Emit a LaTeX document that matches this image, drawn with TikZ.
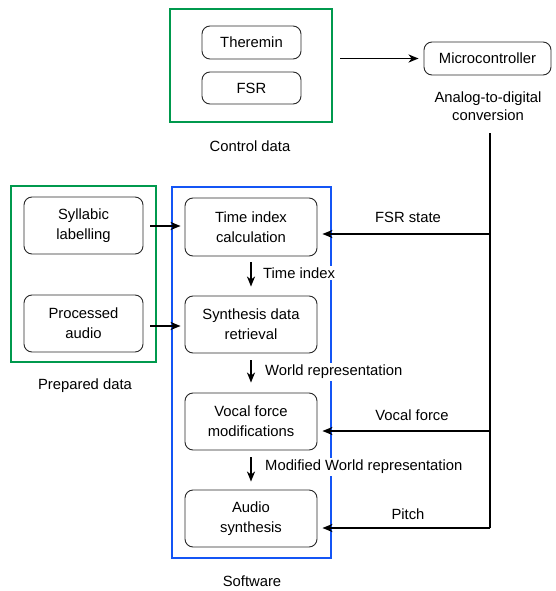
\documentclass[tikz,border=0pt]{standalone}
\usepackage{fontspec}
\setmainfont{Liberation Sans}
\usetikzlibrary{arrows.meta}
\definecolor{grn}{RGB}{0,153,77}
\definecolor{blu}{RGB}{20,85,245}
\definecolor{edge}{RGB}{40,40,40}
\tikzset{
  x=1pt, y=-1pt,
  every node/.style={font=\fontsize{14.8}{20}\selectfont, inner sep=0pt},
  blk/.style={draw=edge, line width=0.9pt, rounded corners=8pt, align=center, minimum width=#1},
  grp/.style={line width=2pt},
  lbl/.style={align=center},
  flow/.style={line width=1.8pt, -{Stealth[length=10pt,width=8pt,inset=3pt]}},
  wl/.style={fill=white, inner sep=2pt, anchor=west},
}
\begin{document}
\begin{tikzpicture}
\useasboundingbox (0,0) rectangle (555,591);
% group frames
\draw[grp, draw=grn] (170,9) rectangle (332,122);
\draw[grp, draw=grn] (11,186) rectangle (156,362);
\draw[grp, draw=blu] (172,187) rectangle (331,558);
\coordinate (ctrl) at (332,65);
\coordinate (prep) at (156,274);
% blocks
\node[blk=99pt, minimum height=33pt] (ther) at (251.5,42.5) {Theremin};
\node[blk=99pt, minimum height=32pt] (fsr) at (251.5,88) {FSR};
\node[blk=127pt, minimum height=33pt] (micro) at (487.5,58.5) {Microcontroller};
\node[blk=119pt, minimum height=57pt] (syl) at (83.5,225.5) {Syllabic\\labelling};
\node[blk=119pt, minimum height=57pt] (proc) at (83.5,323.5) {Processed\\audio};
\node[blk=132pt, minimum height=58pt] (tidx) at (251,227) {Time index\\calculation};
\node[blk=132pt, minimum height=57pt] (synth) at (251,324.5) {Synthesis data\\retrieval};
\node[blk=132pt, minimum height=57pt] (vocal) at (251,421.5) {Vocal force\\modifications};
\node[blk=132pt, minimum height=57pt] (audio) at (251,518.5) {Audio\\synthesis};
% group labels
\node[lbl] (lctrl) at (250,146) {Control data};
\node[lbl] (lprep) at (85,386) {Prepared data};
\node[lbl] (lsoft) at (252,581) {Software};
\node[lbl, font=\fontsize{14.8}{18.3}\selectfont] (ladc) at (488,106) {Analog-to-digital\\conversion};
% control to micro
\draw[flow, shorten <=8pt, shorten >=5pt] (ctrl |- micro) -- (micro.west);
% prepared data
\draw[flow, shorten <=7pt, shorten >=4pt] (syl.east |- 0,226) -- (tidx.west |- 0,226);
\draw[flow, shorten <=7pt, shorten >=4pt] (proc.east |- 0,326) -- (synth.west |- 0,326);
% internal flow
\draw[flow, shorten <=6pt, shorten >=9pt] (tidx.south) -- (synth.north);
\draw[flow, shorten <=7pt, shorten >=10pt] (synth.south) -- (vocal.north);
\draw[flow, shorten <=7pt, shorten >=8pt] (vocal.south) -- (audio.north);
\node[wl] (t1) at (261,273) {Time index};
\node[wl] (t2) at (263,372) {World representation};
\node[wl] (t3) at (263,467) {Modified World representation};
% bus from microcontroller
\coordinate (bustop) at (490,133);
\coordinate (b1) at (490,234);
\coordinate (b2) at (490,431);
\coordinate (b3) at (490,528);
\draw[line width=1.8pt] (bustop) -- (b3);
\draw[flow, shorten >=5pt] (b1) -- (tidx.east |- b1);
\draw[flow, shorten >=5pt] (b2) -- (vocal.east |- b2);
\draw[flow, shorten >=5pt] (b3) -- (audio.east |- b3);
\node[lbl] (f1) at (408,217) {FSR state};
\node[lbl] (f2) at (412,415) {Vocal force};
\node[lbl] (f3) at (408,514) {Pitch};
\end{tikzpicture}
\end{document}
